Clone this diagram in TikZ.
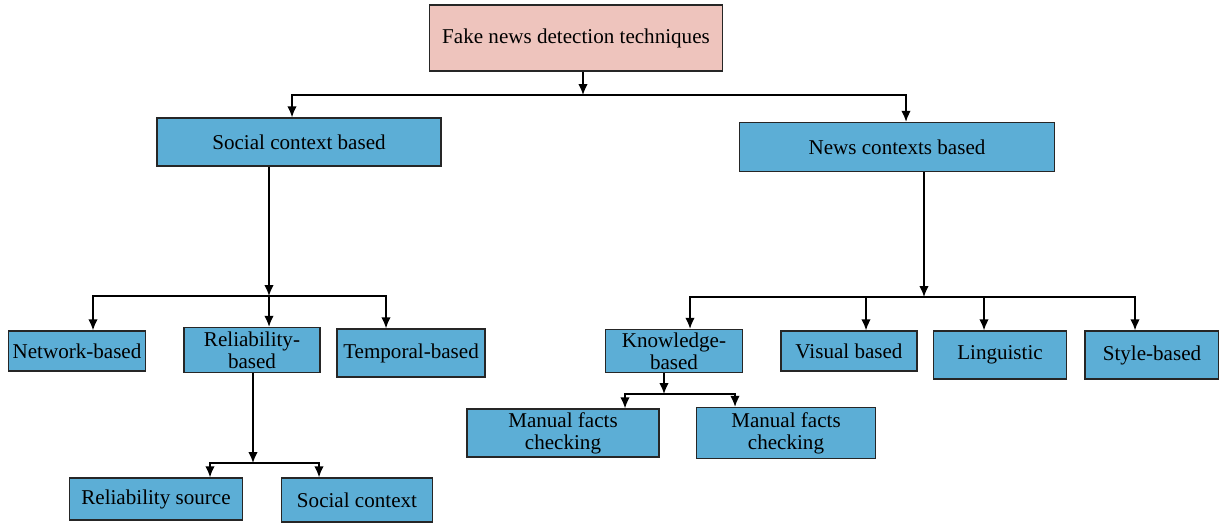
\documentclass[tikz,border=0pt]{standalone}
\usepackage{fontspec}
\setmainfont{Liberation Serif}
\usepackage{tikz}
\usetikzlibrary{arrows.meta,positioning}

\definecolor{boxblue}{RGB}{92,174,214}
\definecolor{rootpink}{RGB}{238,196,189}

\begin{document}
\begin{tikzpicture}[
  x=0.02cm,y=-0.02cm,
  box/.style={draw=black!85, line width=0.8pt, fill=boxblue, align=center, font=\fontsize{12}{12.6}\selectfont, inner sep=0pt},
  rootbox/.style={box, fill=rootpink},
  arr/.style={-{Latex[length=2.2mm,width=1.9mm]}, line width=0.8pt}
]
\useasboundingbox (0,0) rectangle (1219,525);
% top level
\node[rootbox, minimum width=5.86cm, minimum height=1.32cm] (root) at (576,38) {Fake news detection techniques};
\node[box, minimum width=5.68cm, minimum height=0.96cm] (social) at (299,142) {Social context based};
\node[box, minimum width=6.3cm, minimum height=0.98cm] (news) at (897,147) {News contexts based};
% social side
\node[box, minimum width=2.74cm, minimum height=0.8cm] (network) at (77,351) {Network-based};
\node[box, minimum width=2.72cm, minimum height=0.9cm] (reliab) at (252,350) {Reliability-\\based};
\node[box, minimum width=2.96cm, minimum height=0.96cm] (temporal) at (411,353) {Temporal-based};
\node[box, minimum width=3.46cm, minimum height=0.84cm] (source) at (156,499) {Reliability source};
\node[box, minimum width=3.02cm, minimum height=0.88cm] (context) at (357,500) {Social context};
% news side
\node[box, minimum width=2.74cm, minimum height=0.86cm] (knowledge) at (674,351) {Knowledge-\\based};
\node[box, minimum width=2.72cm, minimum height=0.8cm] (visual) at (849,351) {Visual based};
\node[box, minimum width=2.66cm, minimum height=0.96cm] (linguistic) at (1000,355) {Linguistic};
\node[box, minimum width=2.68cm, minimum height=0.96cm] (style) at (1152,355) {Style-based};
\node[box, minimum width=3.84cm, minimum height=0.96cm] (manualA) at (563,433) {Manual facts\\checking};
\node[box, minimum width=3.58cm, minimum height=1.02cm] (manualB) at (786,433) {Manual facts\\checking};
% junctions
\coordinate (j0) at (583,95);
\coordinate (j1) at (269,296);
\coordinate (j2) at (253,463);
\coordinate (j3) at (924,297);
\coordinate (j4) at (664,394);
% connectors
\draw[arr] (root.south -| j0) -- (j0);
\draw[arr] (j0) -| (292,0 |- social.north);
\draw[arr] (j0) -| (906,0 |- news.north);
\draw[arr] (social.south -| j1) -- (j1);
\draw[arr] (j1) -| (93,0 |- network.north);
\draw[arr] (j1) -- (269,0 |- reliab.north);
\draw[arr] (j1) -| (386,0 |- temporal.north);
\draw[arr] (reliab.south -| j2) -- (j2);
\draw[arr] (j2) -| (210,0 |- source.north);
\draw[arr] (j2) -| (319,0 |- context.north);
\draw[arr] (news.south -| j3) -- (j3);
\draw[arr] (j3) -| (690,0 |- knowledge.north);
\draw[arr] (j3) -| (866,0 |- visual.north);
\draw[arr] (j3) -| (984,0 |- linguistic.north);
\draw[arr] (j3) -| (1135,0 |- style.north);
\draw[arr] (knowledge.south -| j4) -- (j4);
\draw[arr] (j4) -| (625,0 |- manualA.north);
\draw[arr] (j4) -| (735,0 |- manualB.north);
\end{tikzpicture}
\end{document}
